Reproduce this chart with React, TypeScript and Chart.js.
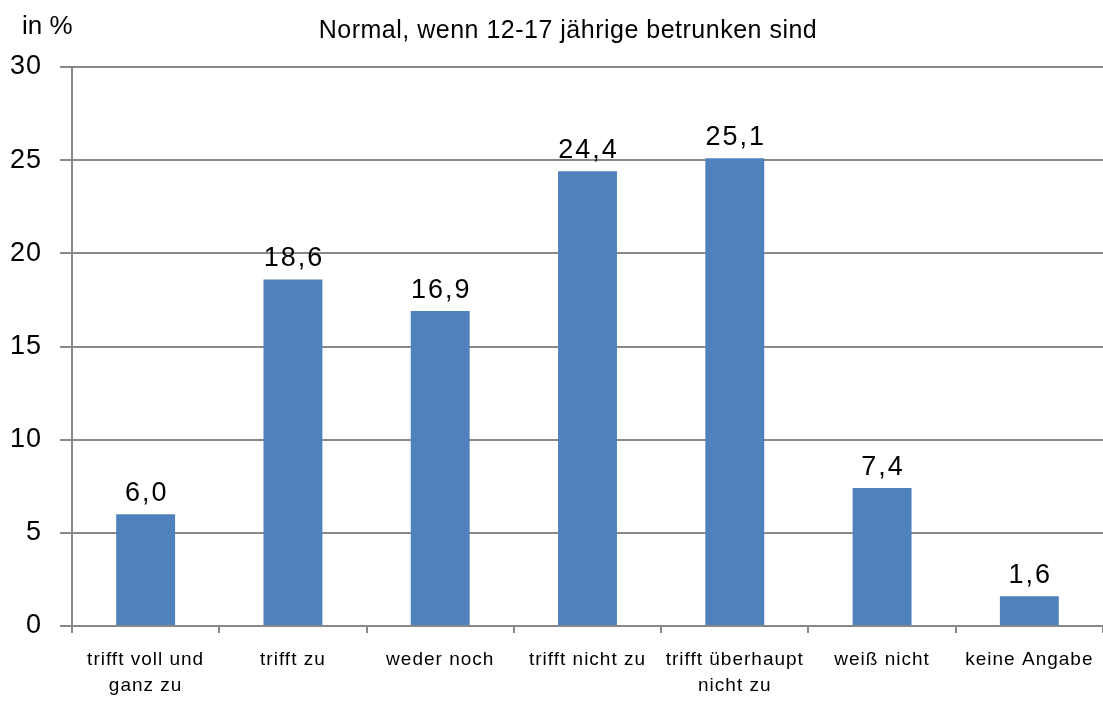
import React, { useEffect, useRef } from "react";
import { Chart, registerables } from "chart.js";

Chart.register(...registerables);

const categories: (string | string[])[] = [
  ["trifft voll und", "ganz zu"],
  "trifft zu",
  "weder noch",
  "trifft nicht zu",
  ["trifft überhaupt", "nicht zu"],
  "weiß nicht",
  "keine Angabe",
];
const values = [6.0, 18.6, 16.9, 24.4, 25.1, 7.4, 1.6];
const yTicks = [0, 5, 10, 15, 20, 25, 30];
const titleText = "Normal, wenn 12-17 jährige betrunken sind";
const unitText = "in %";

const FONT = "'Liberation Sans', Arial, sans-serif";

export default function App() {
  const ref = useRef<HTMLCanvasElement>(null);
  useEffect(() => {
    document.body.style.margin = "0";
    const ctx = ref.current!;
    const labelsPlugin = {
      id: "extras",
      beforeDraw(chart: any) {
        chart.ctx.letterSpacing = "1px";
      },
      afterDatasetsDraw(chart: any) {
        const c = chart.ctx;
        c.save();
        c.fillStyle = "#000";
        c.textAlign = "center";
        c.textBaseline = "bottom";
        c.letterSpacing = "2px";
        c.font = `27px ${FONT}`;
        const meta = chart.getDatasetMeta(0);
        meta.data.forEach((bar: any, i: number) => {
          c.fillText(values[i].toFixed(1).replace(".", ","), bar.x + 1, bar.y - 7);
        });
        c.textBaseline = "middle";
        c.letterSpacing = "0.5px";
        c.font = `25px ${FONT}`;
        c.fillText(titleText, 568, 31);
        c.textAlign = "left";
        c.letterSpacing = "0px";
        c.font = `26px ${FONT}`;
        c.fillText(unitText, 22, 27);
        c.restore();
      },
    };
    const chart = new Chart(ctx, {
      type: "bar",
      data: {
        labels: categories,
        datasets: [
          {
            data: values,
            backgroundColor: "#4F81BD",
            barPercentage: 0.4,
            categoryPercentage: 1,
          },
        ],
      },
      options: {
        animation: false,
        responsive: true,
        maintainAspectRatio: false,
        layout: { padding: { top: 67, right: 0, left: 0, bottom: 0 } },
        plugins: {
          legend: { display: false },
          tooltip: { enabled: false },
          title: { display: false },
        },
        scales: {
          x: {
            grid: {
              display: true,
              drawOnChartArea: false,
              drawTicks: true,
              tickLength: 7,
              color: "#888",
              lineWidth: 2,
              offset: true,
            },
            border: { display: true, color: "#888", width: 2 },
            ticks: {
              color: "#000",
              font: { family: FONT, size: 19, lineHeight: 1.37 },
              padding: 14,
              maxRotation: 0,
              autoSkip: false,
            },
            afterFit: (s: any) => {
              s.height = 76;
            },
          },
          y: {
            min: 0,
            max: 30,
            afterBuildTicks: (s: any) => {
              s.ticks = yTicks.map((v) => ({ value: v }));
            },
            grid: {
              color: "#888",
              lineWidth: 2,
              drawTicks: true,
              tickLength: 12,
            },
            border: { display: true, color: "#888", width: 2 },
            ticks: {
              color: "#000",
              font: { family: FONT, size: 27 },
              padding: 18,
            },
            afterFit: (s: any) => {
              s.width = 72;
            },
          },
        },
      },
      plugins: [labelsPlugin],
    });
    return () => chart.destroy();
  }, []);
  return (
    <div style={{ width: 1103, height: 702, position: "relative" }}>
      <canvas ref={ref} />
    </div>
  );
}
